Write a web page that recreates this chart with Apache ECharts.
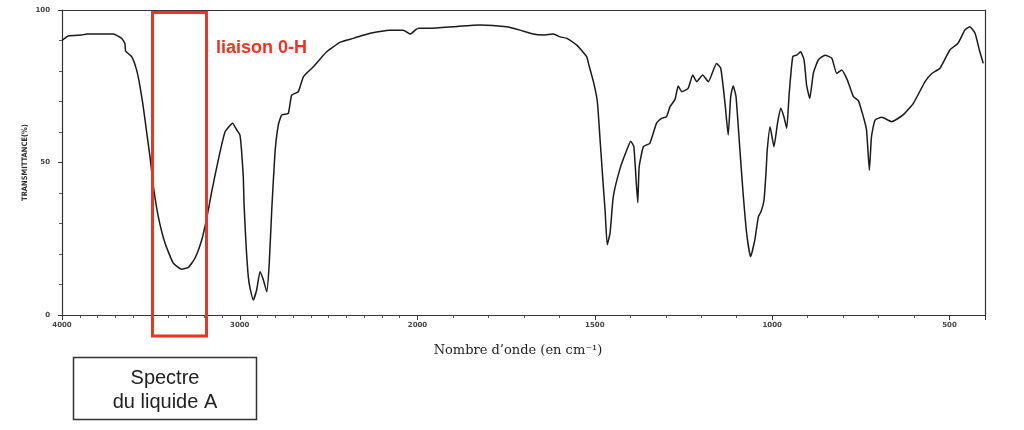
<!DOCTYPE html>
<html>
<head>
<meta charset="utf-8">
<script src="https://cdn.jsdelivr.net/npm/echarts@6/dist/echarts.min.js"></script>
<style>
html,body{margin:0;padding:0;background:#fff;}
#chart{width:1024px;height:430px;}
</style>
</head>
<body>
<div id="chart"></div>
<script>
// Wavenumber (cm-1) and transmittance (%)
const wavenumber = [4000,3965,3889,3861,3711,3664,3646,3642,3608,3580,3561,3543,3523,3505,3499,3486,3458,3420,3374,3327,3289,3252,3214,3186,3158,3121,3083,3040,3017,2999,2990,2980,2976,2965,2952,2942,2924,2905,2886,2867,2848,2834,2820,2802,2783,2764,2727,2708,2671,2642,2586,2511,2436,2361,2267,2155,2080,2042,2005,2000,
1993,1965,1899,1824,1749,1711,1674,1645,1617,1598,1579,1551,1542,1523,1518,1504,1493,1485,1478,1471,1465,1457,1448,1429,1410,1399,1390,1379,1375,1363,1345,1326,1312,1298,1288,1274,1265,1255,1237,1224,1213,1196,1180,1157,1145,1133,1124,1117,1110,1102,1091,1082,1072,1061,1049,1039,1031,1023,1017,1014,1006,995,985,976,967,959,952,942,931,920,910,903,894,884,870,851,832,818,804,788,771,757,743,734,726,720,710,691,663,631,602,569,550,527,499,476,457,443,428,416,405];
const transmittance = [90,91.5,91.8,92.1,92.1,90.7,89,86.5,84.7,80.3,74.9,68.3,59.6,51.9,48.9,42.1,32.2,23.5,17,15,15.6,18.6,24.6,31.7,40.4,50.8,60,62.9,60.7,59,54,45.3,36.6,23.5,12.6,8.8,4.9,8.2,14.2,11.5,7.6,17,34.4,53,62.3,65.6,66.1,72.1,73.2,78.1,81.4,86.3,89.4,90.7,92.4,93.4,93.4,92.1,93.8,93.9,
94,94,94.5,95.1,94.5,93.4,92.1,91.8,92.1,91.2,90.7,88.5,87.4,84.7,82.5,76.5,70,57,45.3,34,23,27,38.8,48,54.1,57,55.2,36.8,48.6,55.2,56.3,62.9,64.5,65,68.3,70.7,75.1,73.2,74.3,78.7,76.5,78.7,76.5,82.5,80.9,69.4,59,71.6,75.1,71.6,54.1,39.9,26.8,19.1,24.6,32.2,34,37.7,47.5,54,61.7,55.2,62.9,67.8,65,61.2,72.7,84.7,85.2,86.3,83.6,75.4,71,79.2,83.6,85.2,84.2,79.2,80.3,77,71.6,70.3,65,60.7,47.5,58.5,63.9,64.8,63.4,65.6,69.4,76.5,79.2,80.9,86.9,89.1,93.4,94.5,92.4,86.9,82.5];
const upperTicks = [4000, 3000, 2000];
const lowerTicks = [1500, 1000, 500];
const yTicks = [0, 50, 100];
const yName = 'TRANSMITTANCE(%)';
const xName = 'Nombre d\u2019onde (en cm\u207B\u00B9)';
const bandLabel = 'liaison 0-H';
const boxLines = ['Spectre', 'du liquide A'];

// split into the two scale regions (4000-2000 and 2000-400, double scale)
const upperData = [], lowerData = [];
wavenumber.forEach((w, i) => {
  if (w >= 2000) upperData.push([4000 - w, transmittance[i]]);
  if (w <= 2000) lowerData.push([2000 - w, transmittance[i]]);
});

const axisColor = '#333';
const tickLabel = {fontSize: 7, fontWeight: 'bold', color: '#444', fontFamily: 'DejaVu Sans'};

const chart = echarts.init(document.getElementById('chart'), null, {renderer: 'canvas'});
chart.setOption({
  animation: false,
  backgroundColor: '#fff',
  grid: [
    {left: 62, width: 355.5, top: 10, bottom: 115},
    {left: 417.5, width: 567.5, top: 10, bottom: 115}
  ],
  xAxis: [
    {type: 'value', gridIndex: 0, min: 0, max: 2000, interval: 1000,
     axisLine: {onZero: false, lineStyle: {color: axisColor, width: 1.2}},
     axisTick: {length: 5, lineStyle: {color: axisColor}},
     minorTick: {show: true, splitNumber: 10, length: 3, lineStyle: {color: '#555'}},
     splitLine: {show: false},
     axisLabel: Object.assign({margin: 7, formatter: v => upperTicks.includes(4000 - v) ? String(4000 - v) : ''}, tickLabel)},
    {type: 'value', gridIndex: 1, min: 0, max: 1600, interval: 500,
     axisLine: {onZero: false, lineStyle: {color: axisColor, width: 1.2}},
     axisTick: {length: 5, lineStyle: {color: axisColor}},
     minorTick: {show: true, splitNumber: 5, length: 3, lineStyle: {color: '#555'}},
     splitLine: {show: false},
     axisLabel: Object.assign({margin: 7, showMinLabel: false, showMaxLabel: false,
       formatter: v => lowerTicks.includes(2000 - v) ? String(2000 - v) : ''}, tickLabel)},
    {type: 'value', gridIndex: 0, position: 'top', min: 0, max: 2000,
     axisLine: {onZero: false, lineStyle: {color: axisColor, width: 1.2}}, axisTick: {show: false},
     axisLabel: {show: false}, splitLine: {show: false}},
    {type: 'value', gridIndex: 1, position: 'top', min: 0, max: 1600,
     axisLine: {onZero: false, lineStyle: {color: axisColor, width: 1.2}}, axisTick: {show: false},
     axisLabel: {show: false}, splitLine: {show: false}}
  ],
  yAxis: [
    {type: 'value', gridIndex: 0, min: 0, max: 100, interval: 50,
     name: yName, nameLocation: 'middle', nameGap: 33, nameRotate: 90,
     nameTextStyle: {fontSize: 7.5, fontWeight: 'bold', color: '#333', fontFamily: 'DejaVu Sans Condensed'},
     axisLine: {show: true, onZero: false, lineStyle: {color: axisColor, width: 1.2}},
     axisTick: {show: true, length: 4, lineStyle: {color: axisColor}},
     minorTick: {show: true, splitNumber: 5, length: 3, lineStyle: {color: '#555'}},
     splitLine: {show: false},
     axisLabel: Object.assign({margin: 12, formatter: v => yTicks.includes(v) ? String(v) : ''}, tickLabel)},
    {type: 'value', gridIndex: 1, position: 'right', min: 0, max: 100,
     axisLine: {show: true, onZero: false, lineStyle: {color: axisColor, width: 1.2}},
     axisTick: {show: false}, axisLabel: {show: false}, splitLine: {show: false}}
  ],
  series: [
    {type: 'line', xAxisIndex: 0, yAxisIndex: 0, data: upperData, showSymbol: false,
     lineStyle: {color: '#1a1a1a', width: 1.5}, smooth: 0.15},
    {type: 'line', xAxisIndex: 1, yAxisIndex: 1, data: lowerData, showSymbol: false,
     lineStyle: {color: '#1a1a1a', width: 1.5}, smooth: 0.15}
  ],
  graphic: [
    {type: 'rect', shape: {x: 152.5, y: 12.5, width: 54, height: 323.5},
     style: {fill: 'none', stroke: '#ee3322', lineWidth: 3}, z: 100},
    {type: 'text', x: 216, y: 48.5,
     style: {text: bandLabel, fill: '#ee3322', font: 'bold 18px "Liberation Sans", Arial, sans-serif',
       textVerticalAlign: 'middle', verticalAlign: 'middle'}, z: 100},
    {type: 'text', x: 518, y: 351,
     style: {text: xName, fill: '#222', font: '13px "DejaVu Serif", serif',
       align: 'center', verticalAlign: 'middle'}, z: 100},
    {type: 'rect', shape: {x: 73.5, y: 357.5, width: 183, height: 62},
     style: {fill: '#fff', stroke: '#333', lineWidth: 1.5}, z: 100},
    {type: 'text', x: 165, y: 378,
     style: {text: boxLines[0], fill: '#222', font: '20px "Liberation Sans", Arial, sans-serif',
       align: 'center', verticalAlign: 'middle'}, z: 101},
    {type: 'text', x: 165, y: 402,
     style: {text: boxLines[1], fill: '#222', font: '20px "Liberation Sans", Arial, sans-serif',
       align: 'center', verticalAlign: 'middle'}, z: 101}
  ]
});
</script>
</body>
</html>
